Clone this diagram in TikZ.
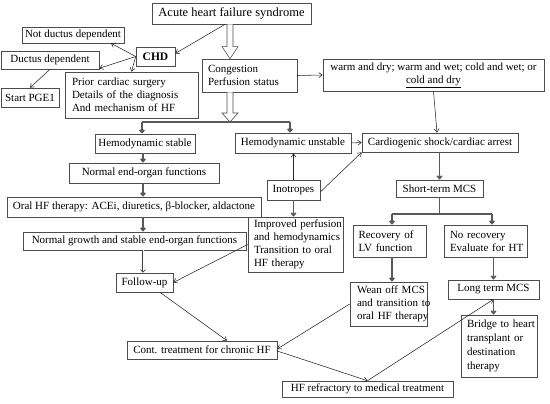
\documentclass[tikz,border=0pt]{standalone}
\usepackage{fontspec}
\setmainfont{Liberation Serif}
\usetikzlibrary{arrows.meta}
\begin{document}
\begin{tikzpicture}[x=1pt,y=-1pt,
  box/.style={draw=black!70, line width=0.6pt, inner sep=0pt, font=\fontsize{11}{13}\selectfont, text=black},
  lbox/.style={box, align=left, text width=#1},
  thin/.style={draw=black!85, line width=0.55pt, -{Straight Barb[length=3.5pt,width=5pt]}},
  thk/.style={draw=black!65, line width=1.7pt, -{Straight Barb[length=2.5pt,width=4.5pt]}},
  thkline/.style={draw=black!65, line width=1.7pt},
  hollow/.style={draw=black!70, line width=0.6pt, fill=white},
  dbl/.style={draw=black!75, line width=0.8pt, double=white, double distance=1pt, -{Straight Barb[length=2.5pt,width=5pt]}}
]
\useasboundingbox (0,0) rectangle (550,404);

% nodes
\node[box, minimum width=159, minimum height=21, font=\fontsize{12.5}{14}\selectfont] (acute) at (231.5,13.5) {Acute heart failure syndrome};
\node[box, minimum width=102, minimum height=16] (notd) at (73,35) {Not ductus dependent};
\node[box, minimum width=39, minimum height=19, font=\fontsize{11.5}{13}\selectfont\bfseries] (chd) at (155.5,56.5) {CHD};
\node[box, minimum width=98, minimum height=18] (dd) at (50,60) {Ductus dependent};
\node[box, minimum width=58, minimum height=19] (pge) at (30,97.5) {Start PGE1};
\node[lbox=119, minimum width=133, minimum height=46] (prior) at (131.5,95) {\mbox{Prior cardiac surgery}\\\mbox{Details of the diagnosis}\\\mbox{And mechanism of HF}};
\node[lbox=83, minimum width=95, minimum height=33] (cong) at (249.5,75.5) {\mbox{Congestion}\\\mbox{Perfusion status}};
\node[box, minimum width=221, minimum height=32, align=center] (warm) at (433.5,75) {warm and dry; warm and wet; cold and wet; or\\\underline{cold and dry}};
\node[box, minimum width=100, minimum height=19] (hs) at (145,143.5) {Hemodynamic stable};
\node[box, minimum width=116, minimum height=20] (hu) at (293,143) {Hemodynamic unstable};
\node[box, minimum width=156, minimum height=19] (cs) at (440,142.5) {Cardiogenic shock/cardiac arrest};
\node[box, minimum width=150, minimum height=20] (neo) at (144,173) {Normal end-organ functions};
\node[box, minimum width=53, minimum height=20] (ino) at (293.5,190) {Inotropes};
\node[box, minimum width=254, minimum height=20] (oral) at (134,207) {Oral HF therapy: ACEi, diuretics, β-blocker, aldactone};
\node[box, minimum width=87, minimum height=17] (st) at (439.5,188.5) {Short-term MCS};
\node[lbox=62, minimum width=73, minimum height=32] (rec) at (389.5,241) {\mbox{Recovery of}\\\mbox{LV function}};
\node[lbox=71, minimum width=83, minimum height=32] (norec) at (485.5,241) {\mbox{No recovery}\\\mbox{Evaluate for HT}};
\node[lbox=83, minimum width=95, minimum height=55] (imp) at (295.5,244.5) {\mbox{Improved perfusion}\\\mbox{and hemodynamics}\\\mbox{Transition to oral}\\\mbox{HF therapy}};
\node[box, minimum width=223, minimum height=18] (ng) at (134.5,241) {Normal growth and stable end-organ functions};
\node[box, minimum width=57, minimum height=19] (fu) at (144.5,282.5) {Follow-up};
\node[box, minimum width=150, minimum height=18] (ct) at (202,350) {Cont. treatment for chronic HF};
\node[lbox=63, minimum width=77, minimum height=44] (wean) at (388.5,304) {\mbox{Wean off MCS}\\\mbox{and transition to}\\\mbox{oral HF therapy}};
\node[box, minimum width=91, minimum height=19] (lt) at (493.5,289.5) {Long term MCS};
\node[lbox=64, minimum width=76, minimum height=62, font=\fontsize{11}{14}\selectfont] (bridge) at (499,346) {\mbox{Bridge to heart}\\\mbox{transplant or}\\\mbox{destination}\\\mbox{therapy}};
\node[box, minimum width=171, minimum height=16] (hfr) at (367.5,389) {HF refractory to medical treatment};

% helper coordinates
\coordinate (hx) at (230,0);
\coordinate (cx) at (143,0);
\coordinate (rx) at (392,0);
\coordinate (bar1) at (230,122);
\coordinate (bar1L) at (142,122);
\coordinate (bar1R) at (290,122);
\coordinate (bar2) at (439.5,214);
\coordinate (bar2L) at (392,214);
\coordinate (bar2R) at (492,214);

% hollow arrows
\coordinate (h1s) at (acute.south -| hx);
\coordinate (h1e) at (cong.north -| hx);
\draw[hollow] ([xshift=-3pt]h1s) -- ([xshift=-3pt,yshift=12pt]h1e) -- ([xshift=-8pt,yshift=12pt]h1e) -- (h1e) -- ([xshift=8pt,yshift=12pt]h1e) -- ([xshift=3pt,yshift=12pt]h1e) -- ([xshift=3pt]h1s);
\coordinate (h2s) at (cong.south -| hx);
\draw[hollow] ([xshift=-3pt]h2s) -- ([xshift=-3pt,yshift=9pt]bar1) -- ([xshift=-8pt,yshift=9pt]bar1) -- (bar1) -- ([xshift=8pt,yshift=9pt]bar1) -- ([xshift=3pt,yshift=9pt]bar1) -- ([xshift=3pt]h2s);

% bar 1
\draw[thkline] (bar1L) -- (bar1R);
\draw[thk] (bar1L) -- (hs.north -| bar1L);
\draw[thk] (bar1R) -- (hu.north -| bar1R);

% thin connectors top
\draw[thin] ([xshift=-6.5pt]acute.south) -- ([yshift=3pt]chd.east);
\draw[thin] (chd.west) -- ([xshift=38pt]notd.south);
\draw[thin] (chd.west) -- ([yshift=1pt]dd.south east);
\draw[thin] (chd.west) -- (prior.north);
\draw[thin] (dd.south) -- (pge.north);
\draw[thin] (cong.east) -- (warm.west);
\draw[thin] (warm.south) -- ([xshift=-3pt]cs.north);
\draw[thin] (hu.east) -- (cs.west);
\draw[thin] (ino.north) -- (hu.south -| ino.north);
\draw[thin] ([yshift=-2pt]ino.east) -- (cs.south west);

% left column
\draw[thk] (hs.south -| cx) -- (neo.north -| cx);
\draw[thk] (neo.south -| cx) -- (oral.north -| cx);
\draw[thk] (oral.south -| cx) -- (ng.north -| cx);
\draw[dbl] (ng.south -| cx) -- (fu.north -| cx);
\draw[thk] (ino.south) -- (imp.north -| ino.south);
\draw[thin] (imp.west) -- (fu.east);
\draw[thin] ([xshift=15.5pt]fu.south) -- ([xshift=25pt]ct.north);

% right column
\draw[thk] (cs.south -| st.north) -- (st.north);
\draw[thkline] (st.south) -- (bar2);
\draw[thkline] (bar2L) -- (bar2R);
\draw[thk] (bar2L) -- (rec.north -| bar2L);
\draw[thk] (bar2R) -- (norec.north -| bar2R);
\draw[thk] (rec.south -| rx) -- (wean.north -| rx);
\draw[thk] (norec.south -| lt.north) -- (lt.north);
\draw[thk] (lt.south) -- (bridge.north -| lt.south);
\draw[thin] (wean.west) -- ([yshift=1pt]ct.east);
\draw[thin] ([yshift=-1pt]ct.east) -- (hfr.north);
\draw[thin] (hfr.north) -- (lt.south);
\end{tikzpicture}
\end{document}
